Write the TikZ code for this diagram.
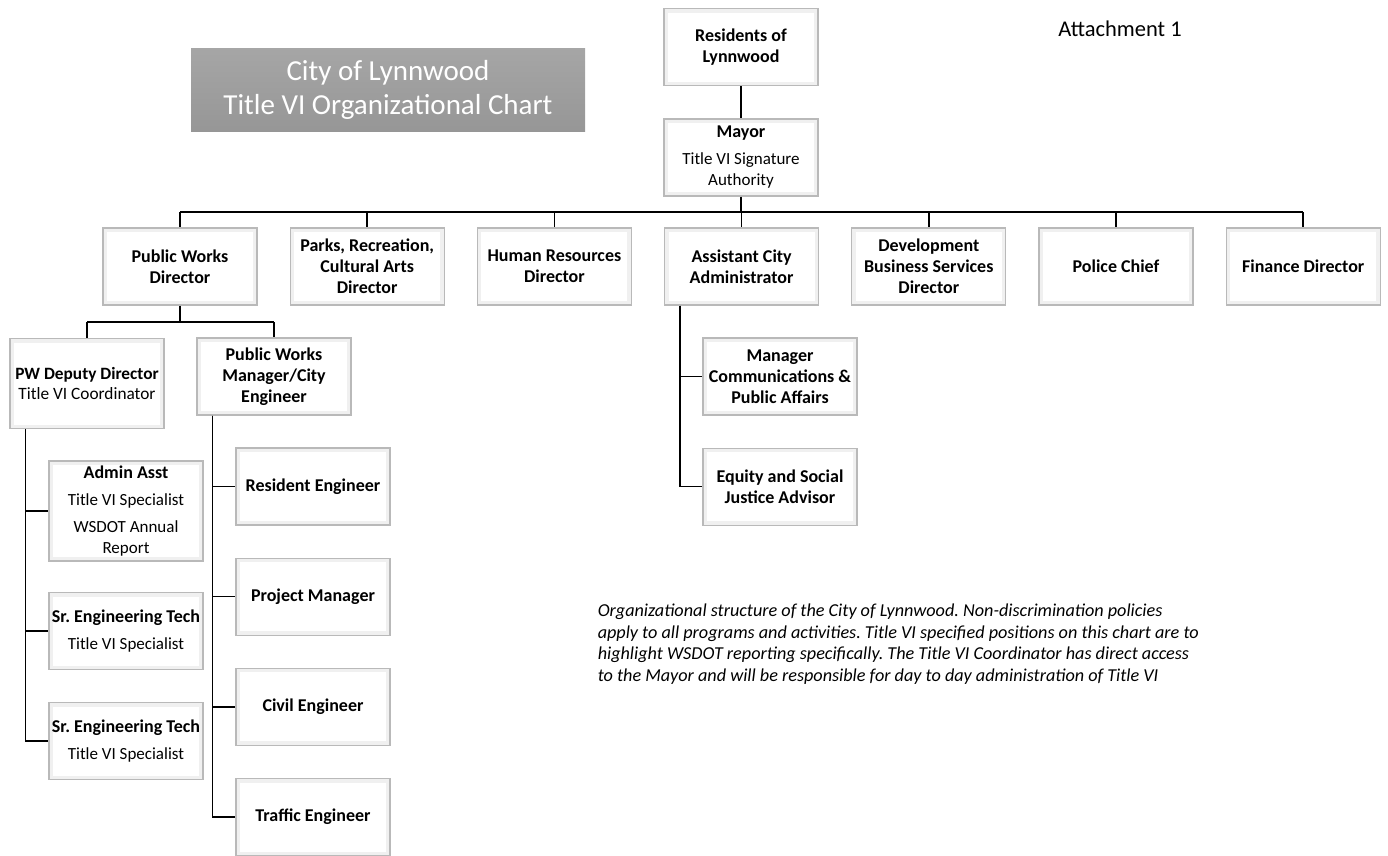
\documentclass[tikz,border=0pt]{standalone}
\usepackage{fontspec}
\setmainfont{Carlito}
\usetikzlibrary{positioning}
\newcommand{\sub}[1]{{\mdseries\fontsize{17}{19}\selectfont #1}}
\frenchspacing

\begin{document}
\begin{tikzpicture}[x=1pt,y=-1pt,line width=1.5pt,node distance=32pt,
  main node/.style={rectangle,draw=gray!55,line width=1.2pt,fill=white,
    minimum width=154pt,minimum height=77pt,text width=152pt,align=flush center,inner sep=0pt,
    font=\fontsize{18}{21}\selectfont\bfseries,
    path picture={\draw[gray!12,line width=8pt] (path picture bounding box.south west) rectangle (path picture bounding box.north east);}},
  title node/.style={rectangle,top color=black!35,bottom color=black!41,draw=none,
    minimum width=394pt,minimum height=83pt,align=flush center,text=white,
    font=\fontsize{29}{34}\selectfont}]
  \tikzset{NoteStyle/.style = {align=left,inner sep=0pt,font=\fontsize{18.2}{21.7}\selectfont\itshape}}
  \useasboundingbox (0,0) rectangle (1388,855);

  \node[title node] (title) at (388,89.5) {City of Lynnwood\\Title VI Organizational Chart};
  \node[font=\fontsize{22.5}{26}\selectfont] (att) at (1120,29) {Attachment 1};

  \node[main node] (res) at (741,47) {Residents of\\Lynnwood};
  \node[main node] (mayor) at (741,157.5) {Mayor\\[6pt]\sub{Title VI Signature}\\\sub{Authority}};

  \node[main node] (pwd) at (180,266.5) {Public Works\\Director};
  \node[main node] (parks) [right=of pwd] {Parks, Recreation,\\Cultural Arts\\Director};
  \node[main node] (hr) [right=of parks] {Human Resources\\Director};
  \node[main node] (aca) [right=of hr] {Assistant City\\Administrator};
  \node[main node] (dev) [right=of aca] {Development\\Business Services\\Director};
  \node[main node] (police) [right=of dev] {Police Chief};
  \node[main node] (fin) [right=of police] {Finance Director};

  \node[main node,minimum height=90pt,text width=160pt,inner xsep=-3pt,font=\fontsize{17.3}{20}\selectfont\bfseries] (dep) at (87,383.5)
    {PW Deputy Director\\{\mdseries Title VI Coordinator}};
  \node[main node] (pwm) at (274,376.5) {Public Works\\Manager/City\\Engineer};

  \node[main node,minimum height=100pt] (admin) at (126,511) {Admin Asst\\[6pt]\sub{Title VI Specialist}\\[6pt]\sub{WSDOT Annual}\\\sub{Report}};
  \node[main node] (tech1) at (126,631) {Sr. Engineering Tech\\[6pt]\sub{Title VI Specialist}};
  \node[main node] (tech2) [below=of tech1] {Sr. Engineering Tech\\[6pt]\sub{Title VI Specialist}};

  \node[main node] (reseng) at (313,486.5) {Resident Engineer};
  \node[main node] (proj) [below=of reseng] {Project Manager};
  \node[main node] (civil) [below=of proj] {Civil Engineer};
  \node[main node] (traffic) [below=of civil] {Traffic Engineer};

  \node[main node] (comm) at (780,376.5) {Manager\\Communications \&\\Public Affairs};
  \node[main node] (equity) [below=of comm] {Equity and Social\\Justice Advisor};

  \node[NoteStyle,anchor=north west] (note) at (597,603)
    {Organizational structure of the City of Lynnwood. Non-discrimination policies\\
     apply to all programs and activities. Title VI specified positions on this chart are to\\
     highlight WSDOT reporting specifically. The Title VI Coordinator has direct access\\
     to the Mayor and will be responsible for day to day administration of Title VI};

  % top of the chart
  \coordinate (bus) at (741,212);
  \draw (res) -- (mayor);
  \draw (mayor) -- (bus);
  \draw (bus -| pwd) -- (bus -| fin);
  \foreach \n in {pwd,parks,hr,aca,dev,police,fin}
    \draw (bus -| \n) -- (\n);

  % public works
  \coordinate (pwbus) at (180,322);
  \draw (pwd) -- (pwbus);
  \draw (pwbus -| dep) -- (pwbus -| pwm);
  \draw (pwbus -| dep) -- (dep);
  \draw (pwbus -| pwm) -- (pwm);
  \foreach \n in {admin,tech1,tech2}
    \draw ([xshift=16pt]dep.south west) |- (\n.west);
  \foreach \n in {reseng,proj,civil,traffic}
    \draw ([xshift=16pt]pwm.south west) |- (\n.west);

  % assistant city administrator
  \foreach \n in {comm,equity}
    \draw ([xshift=16pt]aca.south west) |- (\n.west);
\end{tikzpicture}
\end{document}
